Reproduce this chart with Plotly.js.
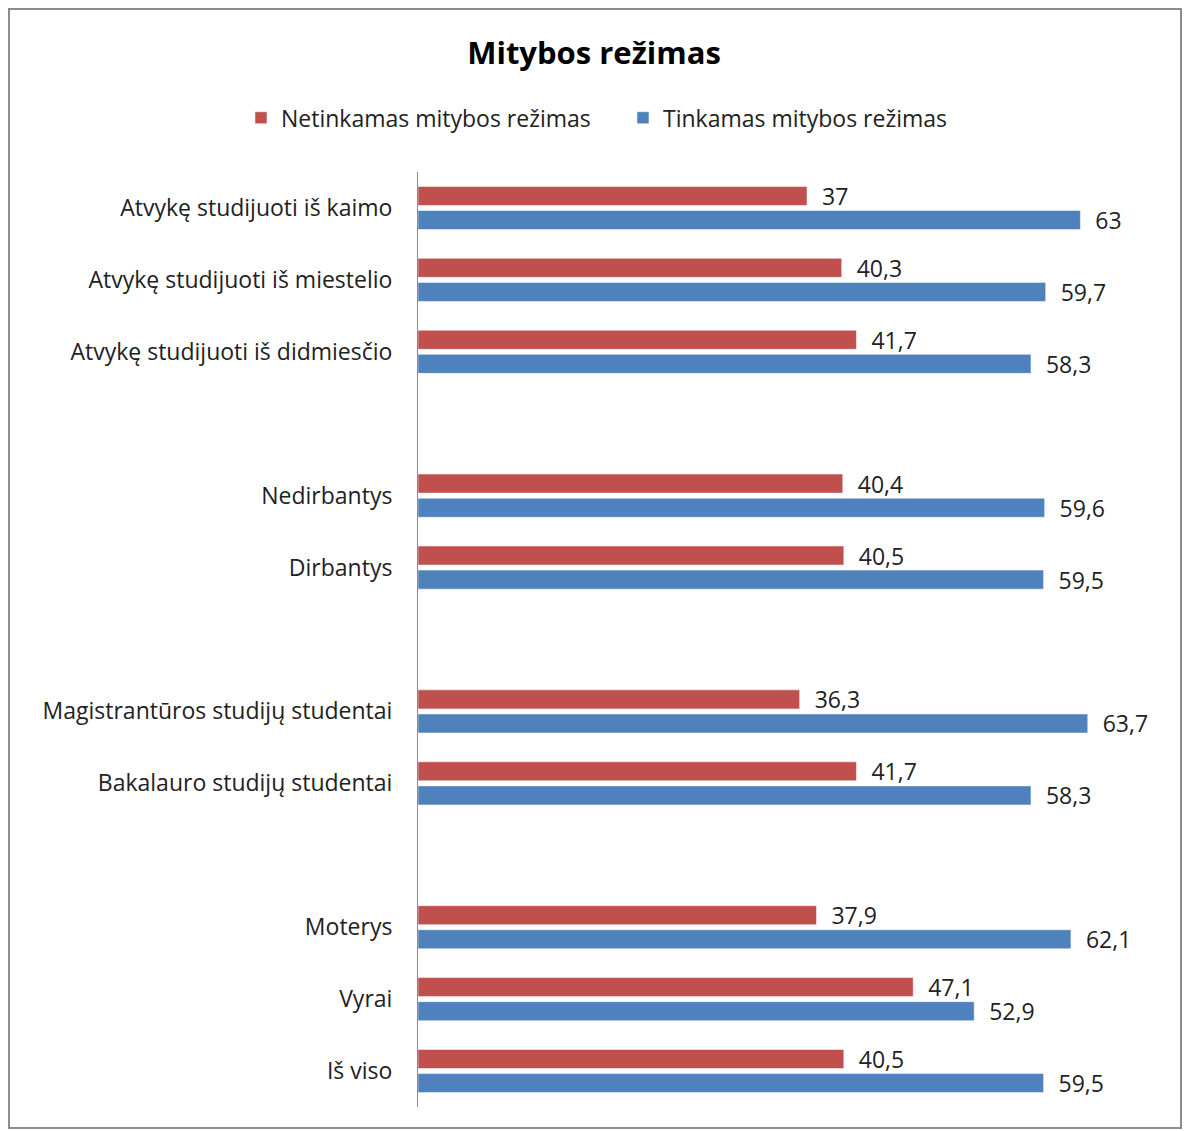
<!DOCTYPE html>
<html><head><meta charset="utf-8">
<script src="https://cdn.plot.ly/plotly-3.0.1.min.js"></script>
<style>
html,body{margin:0;padding:0;background:#fff;}
#wrap{position:relative;width:1188px;height:1131px;}
#frame{position:absolute;left:8px;top:8px;width:1174px;height:1121px;border:2px solid #8c8c8c;box-sizing:border-box;pointer-events:none;}
#chart{position:absolute;left:0;top:0;width:1188px;height:1131px;}
</style></head>
<body>
<div id="wrap"><div id="chart"></div><div id="frame"></div></div>
<script>
const categories = [
  "Atvykę studijuoti iš kaimo",
  "Atvykę studijuoti iš miestelio",
  "Atvykę studijuoti iš didmiesčio",
  " ",
  "Nedirbantys",
  "Dirbantys",
  "  ",
  "Magistrantūros studijų studentai",
  "Bakalauro studijų studentai",
  "   ",
  "Moterys",
  "Vyrai",
  "Iš viso"
];
const netinkamas = [37, 40.3, 41.7, null, 40.4, 40.5, null, 36.3, 41.7, null, 37.9, 47.1, 40.5];
const tinkamas   = [63, 59.7, 58.3, null, 59.6, 59.5, null, 63.7, 58.3, null, 62.1, 52.9, 59.5];
const seriesNames = ["Netinkamas mitybos režimas", "Tinkamas mitybos režimas"];

const fmt = v => v === null ? "" : "\u00A0\u00A0" + String(v).replace(".", ",");
const font = "'Open Sans', Lato, sans-serif";
const txt = "#222";

const mk = (vals, name, color) => ({
  type: "bar", orientation: "h", y: categories, x: vals, name: name,
  marker: {color: color, line: {color: "rgba(255,255,255,0.5)", width: 1}},
  text: vals.map(fmt), textposition: "outside", constraintext: "none",
  cliponaxis: false, textfont: {family: font, size: 23, color: txt},
  hoverinfo: "skip"
});

const data = [
  mk(netinkamas, seriesNames[0], "#C0504D"),
  mk(tinkamas, seriesNames[1], "#4F81BD")
];

const layout = {
  width: 1188, height: 1131,
  margin: {l: 418, r: 34, t: 172, b: 24},
  paper_bgcolor: "#fff", plot_bgcolor: "#fff",
  font: {family: font, size: 23, color: txt},
  title: {text: "<b>Mitybos režimas</b>", x: 0.5, xanchor: "center", y: 0.953, yanchor: "middle",
          font: {family: font, size: 31, color: "#000"}},
  barmode: "group", bargap: 0.33, bargroupgap: 0.21,
  showlegend: true,
  legend: {orientation: "h", x: -0.2405, xanchor: "left", y: 1.058, yanchor: "middle",
           font: {family: font, size: 23, color: txt}, traceorder: "normal",
           itemwidth: 30, tracegroupgap: 0, entrywidth: 337, entrywidthmode: "pixels"},
  xaxis: {range: [0, 70], autorange: false, showgrid: false, zeroline: false, showticklabels: false, ticks: "", showline: false, fixedrange: true},
  yaxis: {type: "category", categoryorder: "array", categoryarray: categories, autorange: "reversed",
          showgrid: false, zeroline: false, showline: true, linecolor: "#888", linewidth: 1,
          ticks: "", ticklabelstandoff: 20, tickfont: {family: font, size: 23, color: txt}, fixedrange: true}
};

Plotly.newPlot("chart", data, layout, {displayModeBar: false, staticPlot: true});
</script>
</body></html>
